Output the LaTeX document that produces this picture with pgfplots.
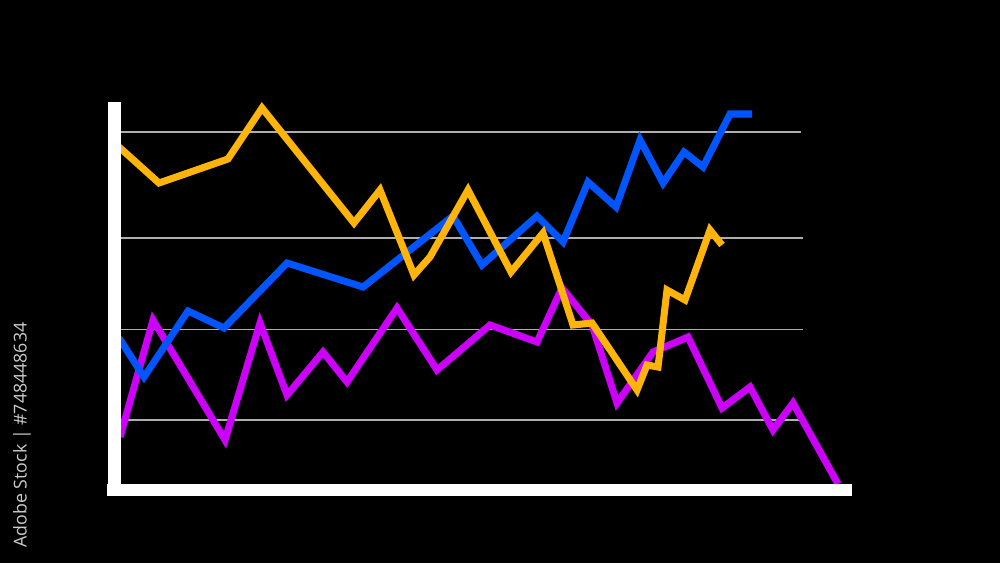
\documentclass[border=0pt]{standalone}
\usepackage{pgfplots}
\pgfplotsset{compat=1.18}
\usepackage{fontspec}
\setmainfont{Open Sans}
\definecolor{corange}{RGB}{255,180,10}
\definecolor{cblue}{RGB}{0,85,255}
\definecolor{cmag}{RGB}{205,0,250}
\definecolor{cgrid}{RGB}{175,175,175}
\begin{document}
\begin{tikzpicture}
\fill[black] (0,0) rectangle (10cm,5.63cm);
\useasboundingbox (0,0) rectangle (10cm,5.63cm);
\begin{axis}[
  at={(0,5.63cm)}, anchor=origin,
  scale only axis, width=10cm, height=5.63cm,
  xmin=0, xmax=1000, ymin=0, ymax=563,
  axis lines=none, ticks=none, clip=true,
  y dir=reverse,
]
% grid lines
\addplot[cgrid, line width=0.45pt] coordinates {(119,132) (801,132)};
\addplot[cgrid, line width=0.45pt] coordinates {(119,238) (803,238)};
\addplot[cgrid, line width=0.45pt] coordinates {(119,329.5) (803,329.5)};
\addplot[cgrid, line width=0.45pt] coordinates {(119,420) (805,420)};
% magenta
\addplot[cmag, line width=2.0pt, line join=miter] coordinates {
(120,437) (153,320) (225,440) (260,323) (287,395) (323,352) (347,382) (397,308)
(437,370) (490,325) (537,342) (562,288) (592,325) (617,403) (653,352) (688,337)
(722,408) (750,387) (773,430) (793,403) (838,484)};
% blue
\addplot[cblue, line width=2.0pt, line join=miter] coordinates {
(119,338) (144,377) (188,311) (224,328) (287,263) (363,287) (453,216) (482,265)
(537,216) (563,242) (588,182) (616,207) (640,140) (663,183) (684,152) (703,167)
(730,114) (752,114)};
% orange
\addplot[corange, line width=2.0pt, line join=miter] coordinates {
(119,147) (159,183) (228,159) (262,108) (354,223) (380,190) (414,275) (430,257)
(468,190) (511,272) (543,233) (573,325) (592,323) (637,390) (647,365) (658,367)
(667,290) (685,300) (710,230) (722,245)};
% white axes
\addplot[white, line width=3.7pt] coordinates {(114,102) (114,496)};
\addplot[white, line width=3.5pt] coordinates {(107,490) (852,490)};
\node[rotate=90, text=white!80!black, font=\fontsize{5.05}{6}\selectfont, inner sep=0pt]
  at (axis cs:22,435) {Adobe Stock | \#748448634};
\end{axis}
\end{tikzpicture}
\end{document}
